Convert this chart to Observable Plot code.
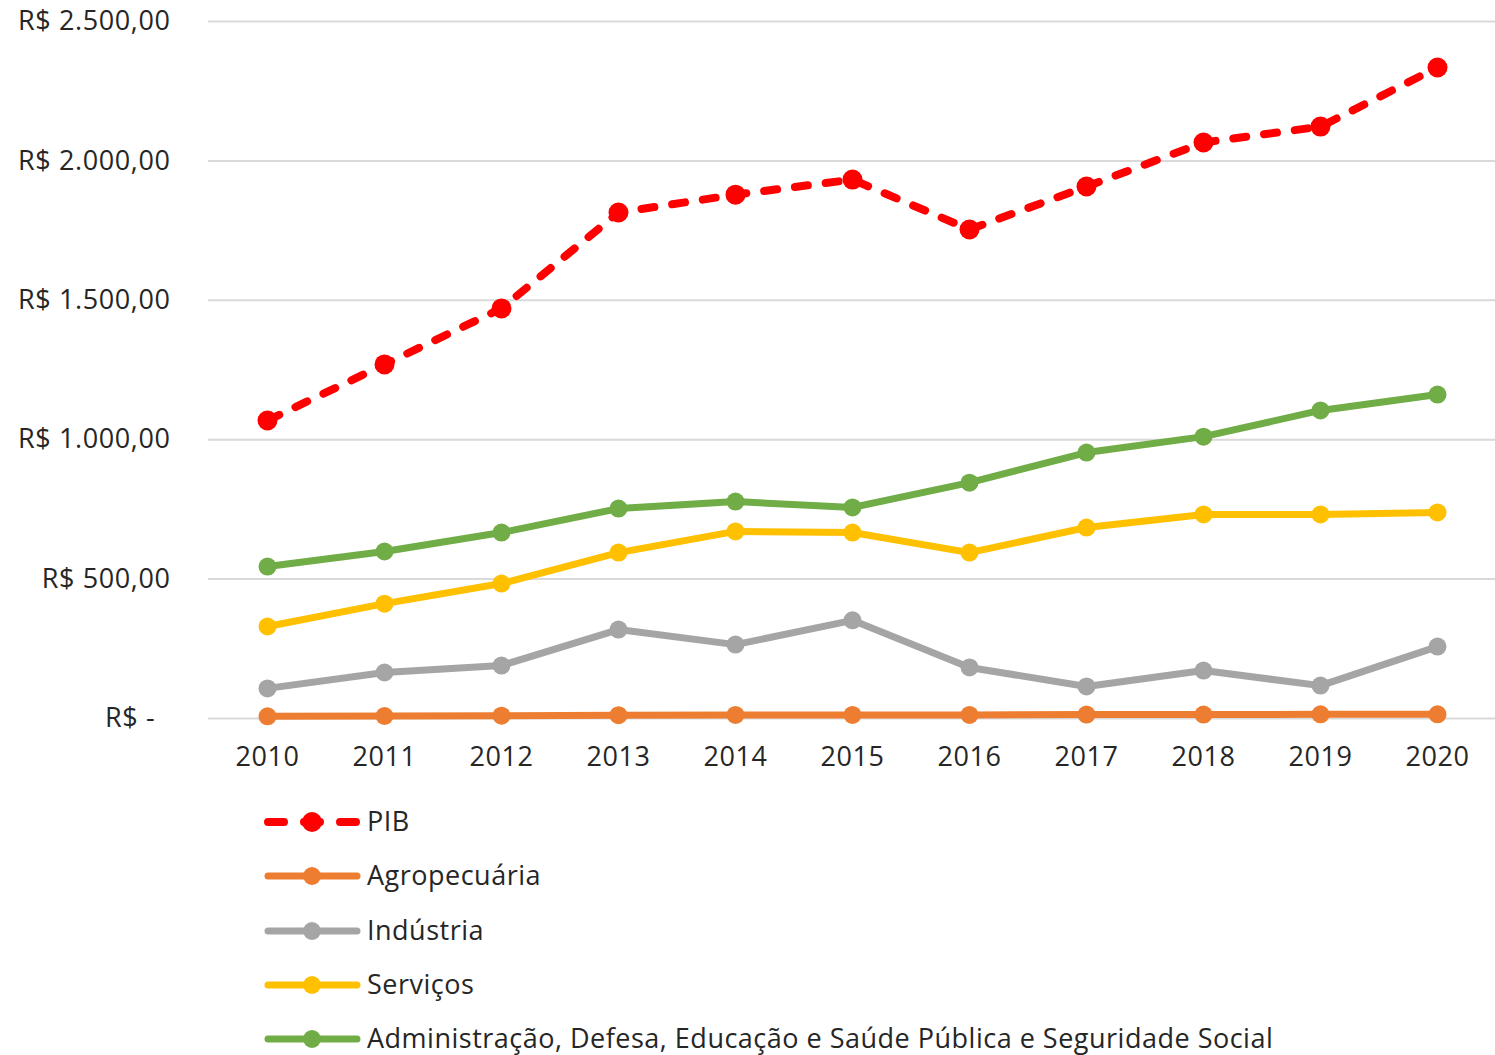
<!DOCTYPE html>
<html>
<head>
<meta charset="utf-8">
<script src="https://cdn.jsdelivr.net/npm/d3@7"></script>
<script src="https://cdn.jsdelivr.net/npm/@observablehq/plot@0.6"></script>
<style>
  html, body { margin: 0; padding: 0; background: #fff; overflow: hidden; }
  #chart svg { display: block; }
  #legend svg { display: block; }
</style>
</head>
<body>
<div id="chart"></div>
<div id="legend"></div>
<script>
const years = [2010, 2011, 2012, 2013, 2014, 2015, 2016, 2017, 2018, 2019, 2020];
const seriesNames = ["PIB", "Agropecuária", "Indústria", "Serviços", "Administração, Defesa, Educação e Saúde Pública e Seguridade Social"];
const seriesColors = ["#FF0000", "#ED7D31", "#A5A5A5", "#FFC000", "#70AD47"];
const pib = [1069, 1270, 1471, 1815, 1879, 1933, 1754, 1908, 2066, 2123, 2335];
const agropecuaria = [8, 9, 10, 12, 13, 13, 13, 14, 14, 15, 15];
const industria = [108, 165, 190, 319, 265, 352, 183, 115, 172, 118, 258];
const servicos = [330, 412, 484, 595, 671, 667, 595, 685, 732, 732, 739];
const administracao = [545, 599, 667, 753, 778, 757, 846, 954, 1011, 1105, 1162];
const yTicks = [0, 500, 1000, 1500, 2000, 2500];
const yTickLabels = ["R$ -\u00a0\u00a0", "R$ 500,00", "R$ 1.000,00", "R$ 1.500,00", "R$ 2.000,00", "R$ 2.500,00"];

const allValues = [pib, agropecuaria, industria, servicos, administracao];
const rows = [];
seriesNames.forEach((name, i) => {
  years.forEach((yr, j) => rows.push({series: name, year: String(yr), value: allValues[i][j], color: seriesColors[i]}));
});

const FONT = "'Open Sans', 'Noto Sans', sans-serif";
const TEXT = "#262626";

const marks = [
  Plot.ruleY(yTicks, {stroke: "#d9d9d9", strokeWidth: 2})
];
seriesNames.forEach((name, i) => {
  const d = rows.filter(r => r.series === name);
  const dashed = i === 0;
  marks.push(Plot.line(d, {
    x: "year", y: "value", stroke: seriesColors[i],
    strokeWidth: dashed ? 8 : 7,
    strokeDasharray: dashed ? "13,18" : null,
    strokeLinecap: "round", strokeLinejoin: "round"
  }));
  marks.push(Plot.dot(d, {
    x: "year", y: "value", fill: seriesColors[i], r: dashed ? 10 : 9, stroke: null
  }));
});

const chart = Plot.plot({
  width: 1495,
  height: 790,
  marginLeft: 208,
  marginRight: 0,
  marginTop: 21,
  marginBottom: 72,
  style: {fontFamily: FONT, fontSize: "27px", letterSpacing: "0.6px", color: TEXT, background: "#fff"},
  x: {type: "point", domain: years.map(String), padding: 0.5, label: null, tickSize: 0, tickPadding: 28},
  y: {domain: [0, 2500], ticks: yTicks, tickFormat: v => yTickLabels[yTicks.indexOf(v)], label: null, tickSize: 0, tickPadding: 38},
  marks
});
document.getElementById("chart").appendChild(chart);

// Legend
const lg = d3.create("svg").attr("width", 1495).attr("height", 265)
  .style("font-family", FONT).style("font-size", "27px").style("letter-spacing", "0.5px");
const rowY = [32, 86, 141, 195, 249];
seriesNames.forEach((name, i) => {
  const g = lg.append("g").attr("transform", `translate(0,${rowY[i]})`);
  const dashed = i === 0;
  if (dashed) {
    g.append("line").attr("x1", 268).attr("x2", 357).attr("y1", 0).attr("y2", 0)
      .attr("stroke", seriesColors[i]).attr("stroke-width", 8).attr("stroke-linecap", "round")
      .attr("stroke-dasharray", "16,20");
  } else {
    g.append("line").attr("x1", 268).attr("x2", 357).attr("y1", 0).attr("y2", 0)
      .attr("stroke", seriesColors[i]).attr("stroke-width", 7).attr("stroke-linecap", "round");
  }
  g.append("circle").attr("cx", 312).attr("cy", 0).attr("r", dashed ? 10 : 9).attr("fill", seriesColors[i]);
  g.append("text").attr("x", 367).attr("y", 0).attr("dy", "0.35em").attr("fill", TEXT).text(name);
});
document.getElementById("legend").appendChild(lg.node());
</script>
</body>
</html>
